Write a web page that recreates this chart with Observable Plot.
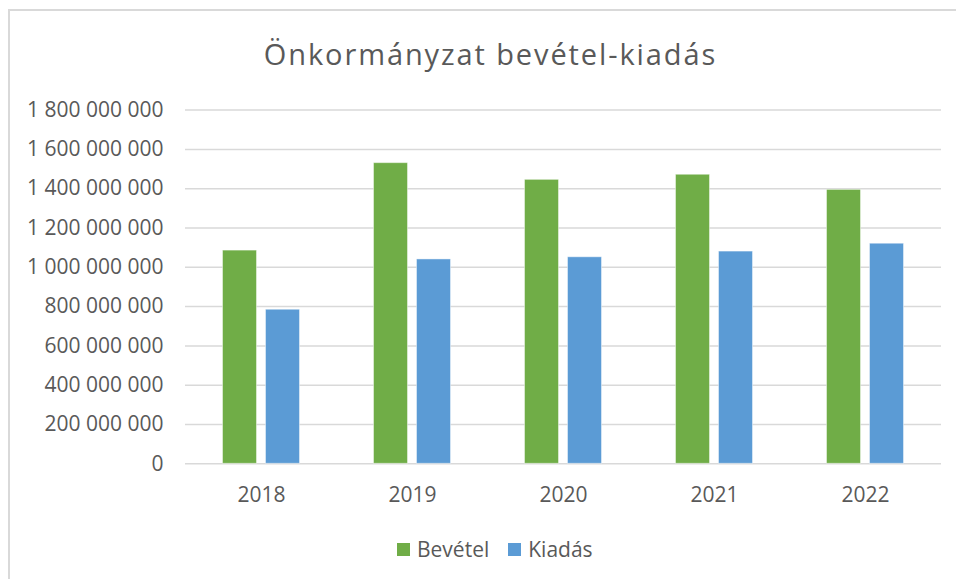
<!DOCTYPE html>
<html>
<head>
<meta charset="utf-8">
<script src="https://cdn.jsdelivr.net/npm/d3@7"></script>
<script src="https://cdn.jsdelivr.net/npm/@observablehq/plot@0.6"></script>
<style>
  html, body { margin: 0; padding: 0; background: #fff; overflow: hidden; }
  body { width: 956px; height: 579px; position: relative; font-family: "Open Sans", sans-serif; color: #595959; }
  #frame { position: absolute; left: 8px; top: 9px; width: 990px; height: 620px; border: 2px solid #d9d9d9; box-sizing: border-box; }
  #title { position: absolute; left: 0; top: 39px; width: 981px; text-align: center; font-size: 29px; line-height: 29px; letter-spacing: 1.9px; white-space: nowrap; }
  #chart { position: absolute; left: 0; top: 90px; }
  #legend { position: absolute; left: 397px; top: 537px; display: flex; align-items: center; font-size: 21px; line-height: 24px; white-space: nowrap; }
  .item { display: flex; align-items: center; margin-right: 19px; }
  .sw { width: 13px; height: 13px; margin-right: 7px; }
</style>
</head>
<body>
<div id="frame"></div>
<div id="title">Önkormányzat bevétel-kiadás</div>
<div id="chart"></div>
<div id="legend"></div>
<script>
const years = ["2018", "2019", "2020", "2021", "2022"];
const seriesNames = ["Bevétel", "Kiadás"];
const bevetel = [1085000000, 1530000000, 1445000000, 1471000000, 1394000000];
const kiadas = [784000000, 1040000000, 1051000000, 1080000000, 1120000000];
const yTicks = [0, 200000000, 400000000, 600000000, 800000000, 1000000000, 1200000000, 1400000000, 1600000000, 1800000000];
const colors = ["#70AD47", "#5B9BD5"];

const dataBev = years.map((y, i) => ({year: y, series: seriesNames[0], value: bevetel[i]}));
const dataKia = years.map((y, i) => ({year: y, series: seriesNames[1], value: kiadas[i]}));

const fmt = d => d3.format(",")(d).replace(/,/g, " ");

const plot = Plot.plot({
  width: 956,
  height: 424,
  marginTop: 19.6,
  marginBottom: 50.7,
  marginLeft: 185,
  marginRight: 15,
  style: { fontFamily: "Open Sans, sans-serif", fontSize: "21px", color: "#595959", background: "transparent" },
  x: { domain: years, paddingInner: 0.775, paddingOuter: 0.3875, label: null, axis: null },
  y: { domain: [0, 1800000000], label: null, axis: null },
  color: { domain: seriesNames, range: colors },
  marks: [
    Plot.ruleY(yTicks, { stroke: "#d9d9d9", strokeWidth: 1.5 }),
    Plot.barY(dataBev, { x: "year", y: "value", fill: "series", dx: -21.5, stroke: "#ffffff", strokeOpacity: 0.45, strokeWidth: 1 }),
    Plot.barY(dataKia, { x: "year", y: "value", fill: "series", dx: 21.5, stroke: "#ffffff", strokeOpacity: 0.45, strokeWidth: 1 }),
    Plot.axisY(yTicks, { tickSize: 0, tickPadding: 22, tickFormat: fmt, fill: "#595959", label: null }),
    Plot.axisX({ tickSize: 0, tickPadding: 23, fill: "#595959", label: null })
  ]
});
document.getElementById("chart").appendChild(plot);

const legend = document.getElementById("legend");
seriesNames.forEach((name, i) => {
  const item = document.createElement("div");
  item.className = "item";
  const sw = document.createElement("div");
  sw.className = "sw";
  sw.style.background = colors[i];
  const t = document.createElement("span");
  t.textContent = name;
  item.appendChild(sw);
  item.appendChild(t);
  legend.appendChild(item);
});
</script>
</body>
</html>
